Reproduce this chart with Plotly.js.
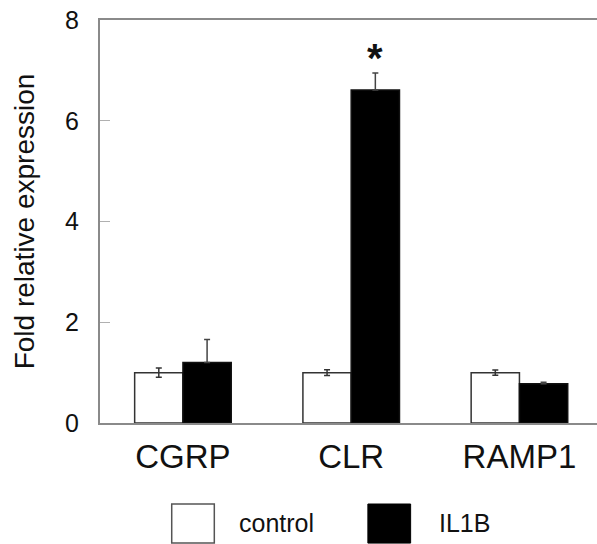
<!DOCTYPE html>
<html>
<head>
<meta charset="utf-8">
<script src="https://cdn.plot.ly/plotly-3.0.1.min.js"></script>
<style>html,body{margin:0;padding:0;background:#fff;}#chart{width:597px;height:544px;}</style>
</head>
<body>
<div id="chart"></div>
<script>
// Data
const categories = ["CGRP", "CLR", "RAMP1"];
const seriesNames = ["control", "IL1B"];
const controlValues = [1.0, 1.0, 1.0];
const controlErr = [0.09, 0.055, 0.05];
const il1bValues = [1.20, 6.61, 0.78];
const il1bErrUp = [0.46, 0.34, 0.03];
const il1bErrDown = [0, 0, 0];
const yTickValues = [0, 2, 4, 6, 8];
const significance = {category: "CLR", label: "*", y: 7.44};

const FONT = "Liberation Sans, Arial, Helvetica, sans-serif";
const BAR_W = 0.287;

const traces = [
  {
    type: "bar", name: seriesNames[0], x: categories, y: controlValues,
    marker: {color: "#ffffff", line: {color: "#333333", width: 1.5}},
    error_y: {type: "data", array: controlErr, symmetric: true, color: "#333333", thickness: 1.5, width: 3},
    showlegend: false
  },
  {
    type: "bar", name: seriesNames[1], x: categories, y: il1bValues,
    marker: {color: "#000000", line: {color: "#111111", width: 1.5}},
    error_y: {type: "data", array: il1bErrUp, arrayminus: il1bErrDown, symmetric: false, color: "#444444", thickness: 1.5, width: 3},
    showlegend: false
  }
];

const catIndex = categories.indexOf(significance.category);

const layout = {
  width: 597, height: 544,
  margin: {l: 100, r: 0, t: 20, b: 121, pad: 0},
  paper_bgcolor: "#ffffff", plot_bgcolor: "#ffffff",
  font: {family: FONT, color: "#111111"},
  barmode: "group",
  bargap: 1 - 2 * BAR_W,
  bargroupgap: 0,
  xaxis: {
    type: "category",
    range: [-0.493, 2.461],
    showline: true, linecolor: "#8a8a8a", linewidth: 2, mirror: true,
    showgrid: false, zeroline: false, ticks: "",
    tickfont: {family: FONT, size: 33, color: "#111111"},
    ticklabelstandoff: 3
  },
  yaxis: {
    range: [0, 8],
    tickvals: yTickValues,
    showline: true, linecolor: "#8a8a8a", linewidth: 2, mirror: false,
    showgrid: false, zeroline: false,
    ticks: "inside", ticklen: 10, tickcolor: "#b0b0b0", tickwidth: 1,
    tickfont: {family: FONT, size: 25, color: "#111111"},
    ticklabelstandoff: 14,
    title: {text: "Fold relative expression", font: {family: FONT, size: 28, color: "#111111"}, standoff: 22}
  },
  shapes: [
    {type: "rect", xref: "paper", yref: "paper", x0: 0.1443, x1: 0.2300, y0: -0.298, y1: -0.201,
     fillcolor: "#ffffff", line: {color: "#555555", width: 1.5}},
    {type: "rect", xref: "paper", yref: "paper", x0: 0.539, x1: 0.625, y0: -0.298, y1: -0.201,
     fillcolor: "#000000", line: {color: "#000000", width: 1}}
  ],
  annotations: [
    {xref: "paper", yref: "paper", x: 0.2757, y: -0.248, xanchor: "left", yanchor: "middle",
     text: seriesNames[0], showarrow: false, font: {family: FONT, size: 25, color: "#111111"}},
    {xref: "paper", yref: "paper", x: 0.678, y: -0.248, xanchor: "left", yanchor: "middle",
     text: seriesNames[1], showarrow: false, font: {family: FONT, size: 25, color: "#111111"}},
    {xref: "x", yref: "y", x: catIndex + BAR_W / 2, y: significance.y, xanchor: "center", yanchor: "middle",
     yshift: -10,
     text: "<b>" + significance.label + "</b>", showarrow: false, font: {family: FONT, size: 40, color: "#111111"}}
  ]
};

Plotly.newPlot("chart", traces, layout, {staticPlot: true, displayModeBar: false});
</script>
</body>
</html>
